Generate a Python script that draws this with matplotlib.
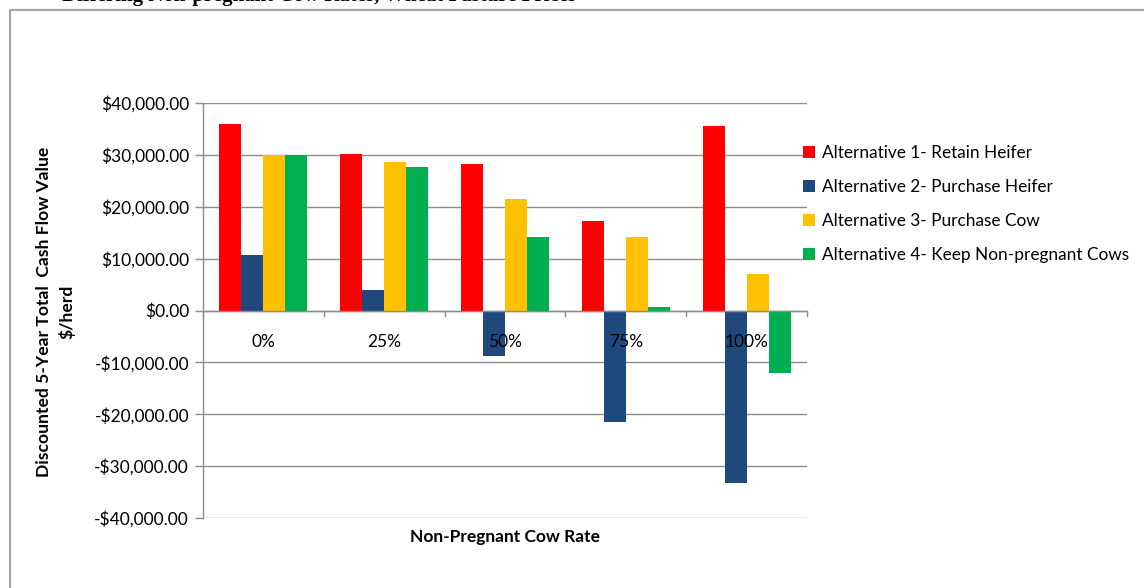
import matplotlib
matplotlib.use("Agg")
import matplotlib.pyplot as plt
from matplotlib.ticker import FuncFormatter, FixedLocator
from matplotlib.patches import Rectangle
import numpy as np

# Non-pregnant cow rate categories and discounted 5-year cash flow ($/herd)
categories = ["0%", "25%", "50%", "75%", "100%"]
alt1_retain_heifer = [36000, 30200, 28200, 17200, 35500]
alt2_purchase_heifer = [10700, 4000, -8800, -21500, -33300]
alt3_purchase_cow = [29900, 28700, 21500, 14100, 7100]
alt4_keep_nonpregnant = [29900, 27600, 14100, 600, -12000]

series_labels = [
    "Alternative 1- Retain Heifer",
    "Alternative 2- Purchase Heifer",
    "Alternative 3- Purchase Cow",
    "Alternative 4- Keep Non-pregnant Cows",
]
series_values = [alt1_retain_heifer, alt2_purchase_heifer,
                 alt3_purchase_cow, alt4_keep_nonpregnant]
series_colors = ["#ff0000", "#1f497d", "#ffc000", "#00b050"]

y_ticks = [-40000, -30000, -20000, -10000, 0, 10000, 20000, 30000, 40000]

plt.rcParams["font.family"] = ["Lato", "DejaVu Sans"]

W, H = 1144, 588
fig = plt.figure(figsize=(W / 100, H / 100), dpi=100)

# outer chart frame (extends past the right and bottom edges)
fig.patches.append(Rectangle((10 / W, -0.05), 1.2, 1 - 10 / H + 0.05,
                             transform=fig.transFigure, fill=False,
                             edgecolor="#a6a6a6", linewidth=1.6))

# document caption running off the top of the page
fig.text(62 / W, 1 - 0.5 / H, "Differing Non-pregnant Cow Rates, Wheat Pasture Prices",
         family="Liberation Serif", fontweight="bold", fontsize=15,
         va="baseline", ha="left")

left, right, top, bottom = 203, 807, 103, 518
ax = fig.add_axes([left / W, 1 - bottom / H, (right - left) / W, (bottom - top) / H])

n_series = len(series_values)
gap = 1.5
bar_w = 1.0 / (n_series + gap)
x = np.arange(len(categories))
for i, (vals, col, lab) in enumerate(zip(series_values, series_colors, series_labels)):
    offs = (i - (n_series - 1) / 2) * bar_w
    ax.bar(x + offs, vals, width=bar_w, color=col, label=lab, zorder=3,
           edgecolor="none")

ax.set_xlim(-0.5, len(categories) - 0.5)
ax.set_ylim(-40000, 40000)
ax.yaxis.set_major_locator(FixedLocator(y_ticks))


def money(v, _pos):
    s = "${:,.2f}".format(abs(v))
    return "-" + s if v < 0 else s


ax.yaxis.set_major_formatter(FuncFormatter(money))
ax.grid(axis="y", color="#8c8c8c", linewidth=1.0, zorder=0)
ax.set_axisbelow(True)

for side in ["top", "right", "bottom"]:
    ax.spines[side].set_visible(False)
ax.spines["left"].set_color("#8c8c8c")
ax.spines["left"].set_linewidth(1.0)
ax.tick_params(axis="y", length=6, width=1.0, color="#8c8c8c",
               labelsize=12.5, pad=4, labelcolor="#000000")

# category axis drawn along zero
ax.axhline(0, color="#8c8c8c", linewidth=1.0, zorder=4)
ax.set_xticks([])
for b in np.arange(-0.5, len(categories), 1.0):
    ax.plot([b, b], [0, -1100], color="#8c8c8c", linewidth=1.0,
            zorder=4, clip_on=False)
for xi, lab in zip(x, categories):
    ax.text(xi, -6000, lab, ha="center", va="center", fontsize=12.5, zorder=5)

ax.text(0.5, -0.045, "Non-Pregnant Cow Rate", transform=ax.transAxes,
        ha="center", va="center", fontsize=12.5, fontweight="bold")
fig.text(56 / W, 1 - 312 / H,
         "Discounted 5-Year Total  Cash Flow Value\n$/herd",
         rotation=90, ha="center", va="center", fontsize=12.6,
         fontweight="bold", linespacing=1.45, multialignment="center")

leg = ax.legend(loc="upper left", bbox_to_anchor=(796 / W, 1 - 138 / H),
                bbox_transform=fig.transFigure, frameon=False,
                fontsize=12.4, handlelength=0.7, handleheight=0.7,
                handletextpad=0.4, labelspacing=1.05, borderaxespad=0)

fig.savefig("out.png", dpi=100)
